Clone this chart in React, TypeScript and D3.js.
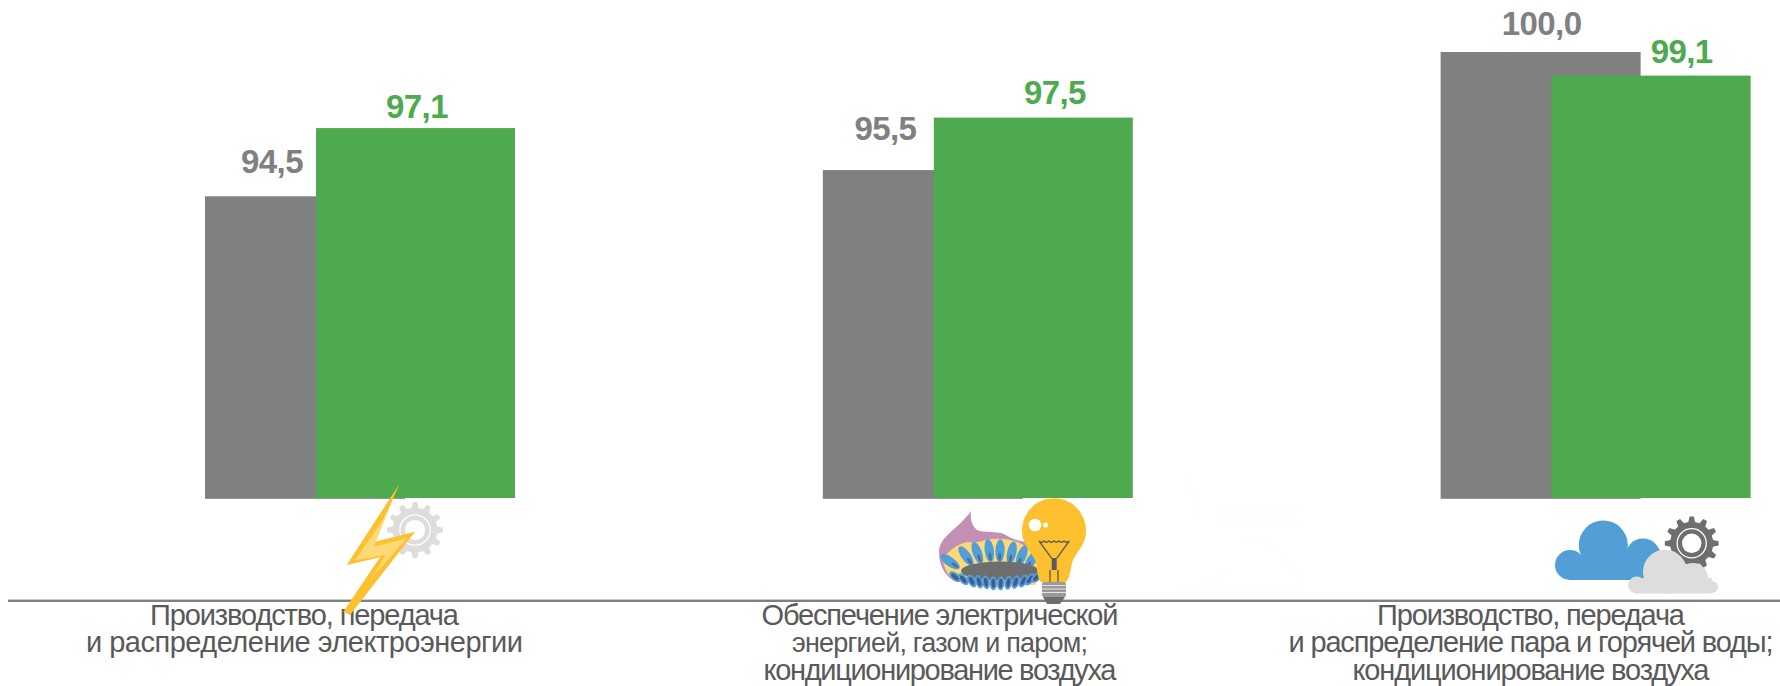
import React from 'react'
import * as d3 from 'd3'

const WIDTH = 1780
const HEIGHT = 686

const CATEGORIES = ['power', 'supply', 'steam']
const SERIES = ['prev', 'curr']
const PREV_VALUES = [94.5, 95.5, 100.0]
const CURR_VALUES = [97.1, 97.5, 99.1]
const CATEGORY_LABELS = [
  ['Производство, передача', 'и распределение электроэнергии'],
  ['Обеспечение электрической', 'энергией, газом и паром;', 'кондиционирование воздуха'],
  ['Производство, передача', 'и распределение пара и горячей воды;', 'кондиционирование воздуха'],
]

// layout
const COLORS = ['#808080', '#4eaa4f']
const BAR_WIDTHS = [200, 199]
const PREV_LABEL_DX = [67, 62.5, 101]
const PREV_LABEL_DY = [23, 30, 17]
const CURR_LABEL_DX = [101, 121, 130]
const CURR_LABEL_DY = [10, 14, 13]
const LABEL_CENTERS = [304.5, 940, 1531]
const LABEL_WIDTHS = [
  [309, 437],
  [357, 296, 353],
  [308, 485, 357],
]
const LABEL_SIZES = [
  [29, 29],
  [29, 27, 29],
  [29, 29, 29],
]
const LABEL_BASELINES = [624.5, 651.5, 680]

const UPPER_FLAMES = [
  [950, 561.7, -55],
  [966, 556, -35],
  [977.3, 552.7, -20],
  [989.3, 550.7, -8],
  [1000, 550.7, 2],
  [1011.7, 552.7, 12],
  [1021.7, 556, 22],
  [1031.7, 560, 32],
]
const LOWER_FLAMES = [
  [955, 576.7, -50],
  [963.3, 579.3, -38],
  [971.7, 581, -28],
  [979, 581.7, -18],
  [986, 582.3, -9],
  [993.3, 583.3, -3],
  [1000.7, 583.3, 3],
  [1008.3, 582.7, 10],
  [1015.7, 582, 18],
  [1023.3, 581, 26],
  [1030, 579.3, 36],
  [1036.7, 577.3, 46],
]

const FONT = '"Liberation Sans", Arial, sans-serif'

const x0 = d3.scaleBand().domain(CATEGORIES).range([205, 1752]).paddingInner(0.496)
const x1 = d3.scalePoint().domain(SERIES).range([0, 111])
const y = d3.scaleLinear().domain([83, 100]).range([498, 52])

const comma = (v: number) => d3.format('.1f')(v).replace('.', ',')

function gearPath(cx: number, cy: number, outer: number, inner: number, teeth: number) {
  const pts: [number, number][] = []
  const step = (Math.PI * 2) / teeth
  for (let i = 0; i < teeth; i++) {
    const a = i * step
    ;[[-0.3, inner], [-0.15, outer], [0.15, outer], [0.3, inner]].forEach(([k, r]) => {
      pts.push([cx + r * Math.cos(a + k * step), cy + r * Math.sin(a + k * step)])
    })
  }
  return d3.line()(pts) + 'Z'
}

function Gear({ cx, cy, r, fill }: { cx: number; cy: number; r: number; fill: string }) {
  return (
    <g>
      <path d={gearPath(cx, cy, r, r * 0.8, 12)} fill={fill} />
      <circle cx={cx} cy={cy} r={r * 0.54} fill="none" stroke="#fff" strokeWidth={1.3} />
      <circle cx={cx} cy={cy} r={r * 0.36} fill="#fff" />
    </g>
  )
}

function BoltIcon() {
  return (
    <g>
      <Gear cx={415} cy={530} r={28} fill="#dedddc" />
      <path d="M399.3 484 L346.7 565 L380 557.3 L343.3 611.7 L350 615 L415 531.7 L375 541.7 Z" fill="#fdc02f" />
      <path d="M391 503 L381.7 521.7 L355 560 L386 555 L370 580 L406.7 538.3 L374 546.7 Z" fill="#fdd978" />
    </g>
  )
}

function BurnerIcon() {
  return (
    <g>
      <path d="M971 510.7 C960 528 939 536 939 552 C939 568 947 578 957 582 L1032 570 L1032 544 C1022 541 1012 540 1004 534 C996 531 984 533 977 530 C972 526 970 520 971 510.7 Z" fill="#c38fb4" />
      <path d="M943 560 C948 550 958 544 967 542 C978 544 990 537 1000 539 C1012 538 1025 544 1036 555 L1036 585 L957 582 C950 578 944 570 943 560 Z" fill="#fdd978" />
      {UPPER_FLAMES.map(([fx, fy, rot], i) => (
        <g key={i} transform={`translate(${fx},${fy}) rotate(${rot})`}>
          <ellipse rx={4.6} ry={11.5} fill="#529fd7" />
          <ellipse cy={6} rx={1.4} ry={4} fill="#45598f" opacity={0.7} />
        </g>
      ))}
      <ellipse cx={1000} cy={571} rx={39} ry={9.5} fill="#6e6e6e" />
      {LOWER_FLAMES.map(([fx, fy, rot], i) => (
        <g key={i} transform={`translate(${fx},${fy}) rotate(${rot})`}>
          <ellipse rx={3.7} ry={7} fill="#529fd7" />
          <ellipse rx={1.9} ry={4.6} fill="#45598f" />
        </g>
      ))}
    </g>
  )
}

function BulbIcon() {
  return (
    <g>
      <path d="M1054 498.3 C1036 498.3 1022 513 1022 531 C1022 544 1030 550 1035 560 C1038 568 1036 576 1041 582 L1066 582 C1071 576 1070 568 1073 560 C1078 550 1086 544 1086 531 C1086 513 1072 498.3 1054 498.3 Z" fill="#fdc02f" />
      <circle cx={1035} cy={525} r={6.3} fill="#fff" />
      <circle cx={1045.7} cy={525} r={2.5} fill="#fff" />
      <path d="M1039 541 Q1041.5 543.5 1044 541 Q1046.5 543.5 1049 541 Q1051.5 543.5 1054 541 Q1056.5 543.5 1059 541 Q1061.5 543.5 1064 541 Q1066.5 543.5 1069.3 541 L1056.7 558.3 M1039 541 L1051.7 558.3 M1050 570 L1050 582 M1058 570 L1058 582" fill="none" stroke="#5a5a5a" strokeWidth={1.3} />
      <rect x={1051.7} y={558} width={5} height={12} fill="#5a5a5a" />
      <rect x={1042} y={582} width={24} height={15} rx={2} fill="#9a9a9a" />
      <path d="M1042 585.5 H1066 M1042 589 H1066 M1042 592.5 H1066" stroke="#e4e4e4" strokeWidth={1} />
      <path d="M1043 597 H1065 L1060 604 H1047 Z" fill="#6e6e6e" />
    </g>
  )
}

function CloudIcon() {
  return (
    <g>
      <Gear cx={1691.7} cy={543.3} r={27} fill="#6e6e6e" />
      <g fill="#529fd7">
        <circle cx={1570} cy={565} r={15} />
        <circle cx={1603.3} cy={545} r={24.5} />
        <circle cx={1643} cy={556} r={17.5} />
        <rect x={1570} y={555} width={83} height={25} />
      </g>
      <g fill="#dedddc">
        <circle cx={1665} cy={571.7} r={22} />
        <circle cx={1636.7} cy={585} r={8.5} />
        <circle cx={1693} cy={578} r={15} />
        <circle cx={1712} cy={587} r={6} />
        <rect x={1636.7} y={578} width={75} height={15.5} />
      </g>
    </g>
  )
}

export default function App() {
  return (
    <svg width={WIDTH} height={HEIGHT} style={{ position: 'absolute', left: 0, top: 0, background: '#fff' }} fontFamily={FONT}>
      {[PREV_VALUES, CURR_VALUES].map((vals, s) => (
        <g key={SERIES[s]}>
          {vals.map((v, i) => (
            <rect
              key={i}
              x={(x0(CATEGORIES[i]) as number) + (x1(SERIES[s]) as number)}
              y={y(v)}
              width={BAR_WIDTHS[s]}
              height={y.range()[0] - y(v) + (s === 0 ? 0.8 : 0)}
              fill={COLORS[s]}
            />
          ))}
        </g>
      ))}
      {PREV_VALUES.map((v, i) => (
        <text key={i} x={(x0(CATEGORIES[i]) as number) + PREV_LABEL_DX[i]} y={y(v) - PREV_LABEL_DY[i]} textAnchor="middle"
          fontSize={33} fontWeight="bold" fill={COLORS[0]} letterSpacing={-0.6}>
          {comma(v)}
        </text>
      ))}
      {CURR_VALUES.map((v, i) => (
        <text key={i} x={(x0(CATEGORIES[i]) as number) + (x1('curr') as number) + CURR_LABEL_DX[i]} y={y(v) - CURR_LABEL_DY[i]} textAnchor="middle"
          fontSize={33} fontWeight="bold" fill={COLORS[1]} letterSpacing={-0.6}>
          {comma(v)}
        </text>
      ))}
      {/* barely visible leftover drawing in the source */}
      <path d="M1175 588 L1300 588 C1295 560 1270 538 1245 538 M1215 510 L1300 510 M1215 520 L1300 520 M1190 475 L1195 520 M1200 588 L1230 570" fill="none" stroke="#fcfcfc" strokeWidth={1} />
      <line x1={8} x2={WIDTH} y1={599.6} y2={599.6} stroke="#c8c8c8" strokeWidth={1} />
      <line x1={8} x2={WIDTH} y1={601.1} y2={601.1} stroke="#808080" strokeWidth={2} />
      {CATEGORY_LABELS.map((lines, i) => (
        <g key={i}>
          {lines.map((line, j) => (
            <text key={j} x={LABEL_CENTERS[i]} y={LABEL_BASELINES[j]} textAnchor="middle"
              fontSize={LABEL_SIZES[i][j]} fill="#595959" textLength={LABEL_WIDTHS[i][j]}>
              {line}
            </text>
          ))}
        </g>
      ))}
      <BoltIcon />
      <BurnerIcon />
      <BulbIcon />
      <CloudIcon />
    </svg>
  )
}
